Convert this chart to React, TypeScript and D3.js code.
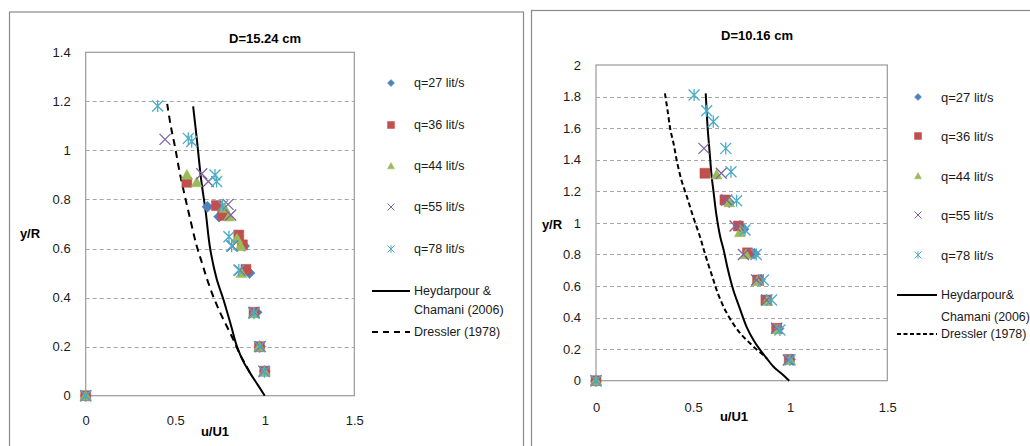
import { useEffect, useRef } from 'react'
import * as d3 from 'd3'

type Pt = [number, number]

// series names and colours (Excel 2007 palette)
const seriesNames = ['q=27 lit/s', 'q=36 lit/s', 'q=44 lit/s', 'q=55 lit/s', 'q=78 lit/s']
const seriesColors = ['#4F81BD', '#C0504D', '#9BBB59', '#8064A2', '#4BACC6']
const seriesShapes = ['diamond', 'square', 'triangle', 'x', 'star']

// D = 15.24 cm
const q27A: Pt[] = [[0, 0], [0.68, 0.77], [0.745, 0.73], [0.885, 0.61], [0.915, 0.5], [0.955, 0.34], [0.975, 0.2], [1.0, 0.1]]
const q36A: Pt[] = [[0, 0], [0.565, 0.87], [0.73, 0.775], [0.765, 0.735], [0.855, 0.655], [0.875, 0.615], [0.895, 0.515], [0.94, 0.34], [0.97, 0.2], [1.0, 0.1]]
const q44A: Pt[] = [[0, 0], [0.565, 0.9], [0.62, 0.87], [0.775, 0.765], [0.8, 0.73], [0.845, 0.64], [0.865, 0.61], [0.87, 0.5], [0.94, 0.335], [0.97, 0.2], [0.998, 0.098]]
const q55A: Pt[] = [[0, 0], [0.443, 1.045], [0.648, 0.905], [0.685, 0.873], [0.795, 0.78], [0.81, 0.737], [0.82, 0.61], [0.86, 0.512], [0.94, 0.34], [0.975, 0.2], [0.995, 0.1]]
const q78A: Pt[] = [[0, 0], [0.402, 1.181], [0.573, 1.049], [0.592, 1.036], [0.722, 0.9], [0.731, 0.873], [0.765, 0.775], [0.8, 0.648], [0.815, 0.61], [0.855, 0.512], [0.94, 0.336], [0.97, 0.2], [0.998, 0.098]]
const heydarA: Pt[] = [[0.6, 1.18], [0.62, 1.05], [0.645, 0.88], [0.67, 0.75], [0.695, 0.6], [0.73, 0.48], [0.77, 0.39], [0.81, 0.29], [0.845, 0.2], [0.88, 0.14], [0.92, 0.09], [0.96, 0.045], [1.0, 0]]
const dresslerA: Pt[] = [[0.455, 1.19], [0.475, 1.1], [0.5, 1.01], [0.525, 0.91], [0.555, 0.81], [0.59, 0.7], [0.62, 0.61], [0.65, 0.54], [0.68, 0.47], [0.715, 0.4], [0.75, 0.34], [0.79, 0.28], [0.83, 0.22], [0.86, 0.17], [0.89, 0.13], [0.92, 0.09]]

// D = 10.16 cm
const q27B: Pt[] = [[0, 0], [0.686, 1.13], [0.76, 0.96], [0.815, 0.805], [0.845, 0.64], [0.88, 0.51], [0.94, 0.33], [1.0, 0.135]]
const q36B: Pt[] = [[0, 0], [0.561, 1.314], [0.664, 1.145], [0.733, 0.98], [0.78, 0.81], [0.832, 0.638], [0.875, 0.511], [0.93, 0.332], [0.995, 0.135]]
const q44B: Pt[] = [[0, 0], [0.621, 1.305], [0.686, 1.13], [0.741, 0.94], [0.772, 0.8], [0.83, 0.63], [0.88, 0.505], [0.935, 0.325], [0.998, 0.13]]
const q55B: Pt[] = [[0, 0], [0.556, 1.472], [0.645, 1.314], [0.673, 1.145], [0.716, 0.98], [0.759, 0.8], [0.827, 0.638], [0.879, 0.511], [0.93, 0.332], [0.99, 0.131]]
const q78B: Pt[] = [[0, 0], [0.505, 1.81], [0.57, 1.71], [0.604, 1.641], [0.668, 1.472], [0.695, 1.324], [0.724, 1.14], [0.767, 0.955], [0.825, 0.8], [0.862, 0.638], [0.904, 0.511], [0.947, 0.321], [0.999, 0.131]]
const heydarB: Pt[] = [[0.565, 1.82], [0.575, 1.6], [0.585, 1.45], [0.595, 1.3], [0.605, 1.2], [0.62, 1.05], [0.64, 0.91], [0.657, 0.83], [0.68, 0.7], [0.707, 0.575], [0.74, 0.46], [0.776, 0.34], [0.81, 0.26], [0.845, 0.195], [0.88, 0.14], [0.913, 0.09], [0.955, 0.045], [0.995, 0]]
const dresslerB: Pt[] = [[0.355, 1.82], [0.37, 1.7], [0.383, 1.59], [0.4, 1.5], [0.415, 1.4], [0.44, 1.27], [0.467, 1.17], [0.5, 1.04], [0.536, 0.91], [0.555, 0.83], [0.58, 0.73], [0.604, 0.64], [0.621, 0.575], [0.66, 0.46], [0.707, 0.36], [0.75, 0.29], [0.793, 0.237], [0.83, 0.195], [0.862, 0.163], [0.88, 0.14]]

const xTicks = [0, 0.5, 1, 1.5]
const yTicksA = [0, 0.2, 0.4, 0.6, 0.8, 1, 1.2, 1.4]
const yTicksB = [0, 0.2, 0.4, 0.6, 0.8, 1, 1.2, 1.4, 1.6, 1.8, 2]

const FONT = "'Liberation Sans', Arial, sans-serif"

function markerPath(shape: string, s: number) {
  const h = s / 2
  switch (shape) {
    case 'diamond': return `M0,${-h}L${h},0L0,${h}L${-h},0Z`
    case 'square': return `M${-h},${-h}H${h}V${h}H${-h}Z`
    case 'triangle': return `M0,${-h}L${h},${h * 0.8}L${-h},${h * 0.8}Z`
    case 'x': return `M${-h},${-h}L${h},${h}M${h},${-h}L${-h},${h}`
    default: return `M${-h},${-h}L${h},${h}M${h},${-h}L${-h},${h}M0,${-h * 1.1}V${h * 1.1}`
  }
}

export default function App() {
  const ref = useRef<SVGSVGElement>(null)

  useEffect(() => {
    const svg = d3.select(ref.current)
    svg.selectAll('*').remove()

    const panels = [
      {
        box: [9.5, 12, 523.5, 460], plot: [85.7, 52.3, 354.3, 395.7], yMax: 1.4, yTicks: yTicksA,
        series: [q27A, q36A, q44A, q55A, q78A], heydar: heydarA, dressler: dresslerA,
        title: 'D=15.24 cm', titlePos: [265, 38], xLab: [215, 431], yLab: [30, 233], xPad: 20,
        leg: { mx: 391, tx: 414, ys: [83, 125, 166, 207, 249], l0: 372, l1: 410, ly: [291, 310, 332], dash: '6,5', fs: 12.5, lfs: 12.5 },
        hText: 'Heydarpour &'
      },
      {
        box: [531.5, 10.5, 1040, 460], plot: [596, 65, 887.3, 380.7], yMax: 2, yTicks: yTicksB,
        series: [q27B, q36B, q44B, q55B, q78B], heydar: heydarB, dressler: dresslerB,
        title: 'D=10.16  cm', titlePos: [757, 35], xLab: [734, 416], yLab: [552, 224], xPad: 22,
        leg: { mx: 918, tx: 941, ys: [97, 136, 176, 215, 255], l0: 897, l1: 937, ly: [295, 317, 334], dash: '4,2.5', fs: 13, lfs: 12.4 },
        hText: 'Heydarpour&'
      }
    ]

    panels.forEach(p => {
      const [bx0, by0, bx1, by1] = p.box
      svg.append('rect').attr('x', bx0).attr('y', by0).attr('width', bx1 - bx0).attr('height', by1 - by0)
        .attr('fill', 'white').attr('stroke', '#8a8a8a').attr('stroke-width', 1.2)

      const [px0, py0, px1, py1] = p.plot
      const x = d3.scaleLinear().domain([0, 1.5]).range([px0, px1])
      const y = d3.scaleLinear().domain([0, p.yMax]).range([py1, py0])

      // grid
      svg.append('g').selectAll('line')
        .data(p.yTicks.filter(t => t > 0 && t < p.yMax))
        .enter().append('line')
        .attr('x1', px0).attr('x2', px1)
        .attr('y1', d => Math.round(y(d)) + 0.5).attr('y2', d => Math.round(y(d)) + 0.5)
        .attr('stroke', '#a6a6a6').attr('stroke-dasharray', '4,3')

      svg.append('rect').attr('x', px0).attr('y', py0).attr('width', px1 - px0).attr('height', py1 - py0)
        .attr('fill', 'none').attr('stroke', '#9a9a9a').attr('stroke-width', 1.2)

      const fmt = (d: d3.NumberValue) => String(+(+d).toFixed(1))
      const ya = svg.append('g').attr('transform', `translate(${px0},0)`)
        .call(d3.axisLeft(y).tickValues(p.yTicks).tickSize(0).tickPadding(15).tickFormat(fmt))
      const xa = svg.append('g').attr('transform', `translate(0,${py1})`)
        .call(d3.axisBottom(x).tickValues(xTicks).tickSize(0).tickPadding(p.xPad).tickFormat(fmt))
      ;[ya, xa].forEach(a => {
        a.select('.domain').remove()
        a.selectAll('text').attr('font-family', FONT).attr('font-size', 13).attr('fill', '#1a1a1a')
      })

      // theory curves
      const line = d3.line<Pt>().x(d => x(d[0])).y(d => y(d[1])).curve(d3.curveCatmullRom)
      svg.append('path').attr('d', line(p.dressler)).attr('fill', 'none').attr('stroke', '#000')
        .attr('stroke-width', 2).attr('stroke-dasharray', p.leg.dash === '6,5' ? '7,5' : '5,3')
      svg.append('path').attr('d', line(p.heydar)).attr('fill', 'none').attr('stroke', '#000').attr('stroke-width', 2)

      // measured points
      p.series.forEach((data, i) => {
        const shape = seriesShapes[i]
        const stroked = shape === 'x' || shape === 'star'
        svg.append('g').selectAll('path').data(data).enter().append('path')
          .attr('transform', d => `translate(${x(d[0])},${y(d[1])})`)
          .attr('d', markerPath(shape, shape === 'square' ? 10 : 11))
          .attr('fill', stroked ? 'none' : seriesColors[i])
          .attr('stroke', seriesColors[i])
          .attr('stroke-width', stroked ? 1.3 : 0.5)
      })

      // titles
      svg.append('text').attr('x', p.titlePos[0]).attr('y', p.titlePos[1]).attr('dy', '0.35em')
        .attr('text-anchor', 'middle').attr('font-family', FONT).attr('font-weight', 'bold').attr('font-size', 13)
        .text(p.title)
      svg.append('text').attr('x', p.xLab[0]).attr('y', p.xLab[1]).attr('dy', '0.35em')
        .attr('text-anchor', 'middle').attr('font-family', FONT).attr('font-weight', 'bold').attr('font-size', 13)
        .text('u/U1')
      svg.append('text').attr('x', p.yLab[0]).attr('y', p.yLab[1]).attr('dy', '0.35em')
        .attr('text-anchor', 'middle').attr('font-family', FONT).attr('font-weight', 'bold').attr('font-size', 13)
        .text('y/R')

      // legend
      const lg = p.leg
      seriesNames.forEach((name, i) => {
        const shape = seriesShapes[i]
        const stroked = shape === 'x' || shape === 'star'
        svg.append('path').attr('transform', `translate(${lg.mx},${lg.ys[i]})`)
          .attr('d', markerPath(shape, 7))
          .attr('fill', stroked ? 'none' : seriesColors[i])
          .attr('stroke', seriesColors[i]).attr('stroke-width', stroked ? 1 : 0.5)
        svg.append('text').attr('x', lg.tx).attr('y', lg.ys[i]).attr('dy', '0.35em')
          .attr('font-family', FONT).attr('font-size', lg.fs).attr('fill', '#1a1a1a').text(name)
      })
      svg.append('line').attr('x1', lg.l0).attr('x2', lg.l1).attr('y1', lg.ly[0]).attr('y2', lg.ly[0])
        .attr('stroke', '#000').attr('stroke-width', 2)
      svg.append('line').attr('x1', lg.l0).attr('x2', lg.l1).attr('y1', lg.ly[2]).attr('y2', lg.ly[2])
        .attr('stroke', '#000').attr('stroke-width', 2).attr('stroke-dasharray', lg.dash)
      ;[p.hText, 'Chamani (2006)', 'Dressler (1978)'].forEach((t, i) => {
        svg.append('text').attr('x', lg.tx).attr('y', lg.ly[i]).attr('dy', '0.35em')
          .attr('font-family', FONT).attr('font-size', lg.lfs).attr('fill', '#1a1a1a').text(t)
      })
    })
  }, [])

  return (
    <div style={{ position: 'absolute', left: 0, top: 0 }}>
      <svg ref={ref} width={1030} height={446} style={{ display: 'block', background: '#fff' }} />
    </div>
  )
}
